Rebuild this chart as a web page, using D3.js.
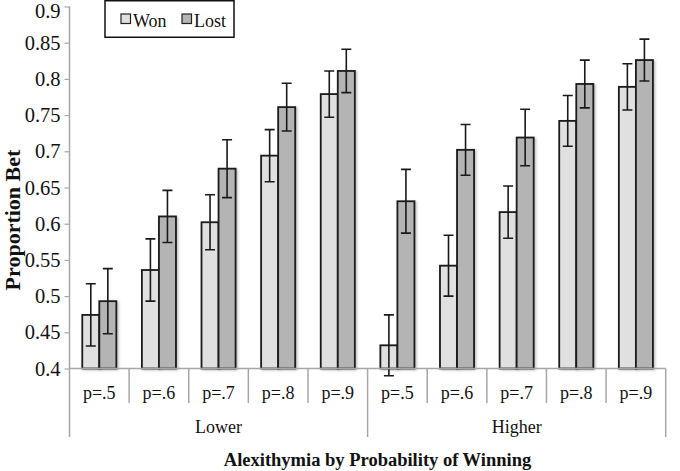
<!DOCTYPE html>
<html><head><meta charset="utf-8">
<script src="https://cdn.jsdelivr.net/npm/d3@7"></script>
<style>html,body{margin:0;padding:0;background:#fff}svg{display:block}</style>
</head><body><svg id="c" width="680" height="471"></svg>
<script>
const groups = ["Lower", "Higher"];
const probs = ["p=.5", "p=.6", "p=.7", "p=.8", "p=.9"];
const series = ["Won", "Lost"];
const wonMean  = [0.474, 0.536, 0.602, 0.694, 0.779, 0.432, 0.542, 0.616, 0.742, 0.789];
const wonErr   = [0.043, 0.043, 0.038, 0.036, 0.032, 0.042, 0.042, 0.036, 0.035, 0.032];
const lostMean = [0.493, 0.610, 0.676, 0.761, 0.811, 0.631, 0.702, 0.719, 0.793, 0.826];
const lostErr  = [0.045, 0.036, 0.040, 0.033, 0.030, 0.044, 0.035, 0.039, 0.033, 0.029];
const yTicks = [0.4, 0.45, 0.5, 0.55, 0.6, 0.65, 0.7, 0.75, 0.8, 0.85, 0.9];

(function () {
const colors = {Won: "#e0e0e0", Lost: "#b4b4b4"};
const font = "'Liberation Serif','Times New Roman',serif";
const svg = d3.select("#c");

const cats = [];
groups.forEach(g => probs.forEach(p => cats.push({group: g, prob: p, key: g + "|" + p})));
const data = cats.map((c, i) => ({
  ...c,
  vals: [{s: "Won", m: wonMean[i], e: wonErr[i]}, {s: "Lost", m: lostMean[i], e: lostErr[i]}]
}));

const pL = 69.5, pR = 665.7, pT = 6.5, pB = 368.5;
const y = d3.scaleLinear().domain([0.4, 0.9]).range([pB, pT]);
const x0 = d3.scaleBand().domain(cats.map(c => c.key)).range([pL, pR]).padding(0);
const x1 = d3.scaleBand().domain(series).range([0, x0.bandwidth()]).paddingInner(0).paddingOuter(0.75);
const xg = d3.scaleBand().domain(groups).range([pL, pR]).padding(0);

const defs = svg.append("defs");
const f = defs.append("filter").attr("id", "sh").attr("x", "-20%").attr("y", "-20%").attr("width", "150%").attr("height", "150%");
f.append("feDropShadow").attr("dx", 1.5).attr("dy", 1).attr("stdDeviation", 1).attr("flood-color", "#000").attr("flood-opacity", 0.25);

const axisCol = "#a6a6a6";
const ya = svg.append("g").attr("transform", `translate(${pL},0)`)
  .call(d3.axisLeft(y).tickValues(yTicks).tickSize(5).tickPadding(4).tickFormat(d => String(+d.toFixed(2))));
ya.attr("font-family", font);
ya.select(".domain").attr("stroke", axisCol).attr("stroke-width", 1.5).attr("d", `M0,${pT}V${pB}`);
ya.selectAll(".tick line").attr("stroke", axisCol).attr("stroke-width", 1.2);
ya.selectAll(".tick text").attr("font-family", font).attr("font-size", 20.5).attr("fill", "#111")
  .attr("dy", d => d === 0.9 ? "0.52em" : "0.32em");

const gsel = svg.append("g").selectAll("g").data(data).join("g")
  .attr("transform", d => `translate(${x0(d.key)},0)`);
gsel.selectAll("rect").data(d => d.vals).join("rect")
  .attr("x", v => x1(v.s)).attr("width", x1.bandwidth())
  .attr("y", v => y(v.m)).attr("height", v => y(0.4) - y(v.m))
  .attr("fill", v => colors[v.s]).attr("stroke", "#1a1a1a").attr("stroke-width", 1.8)
  .attr("filter", "url(#sh)");

const cap = 5;
gsel.selectAll("path.err").data(d => d.vals).join("path").attr("class", "err")
  .attr("d", v => {
    const cx = x1(v.s) + x1.bandwidth() / 2, t = y(v.m + v.e), b = y(v.m - v.e);
    return `M${cx},${t}V${b}M${cx - cap},${t}H${cx + cap}M${cx - cap},${b}H${cx + cap}`;
  })
  .attr("stroke", "#1a1a1a").attr("stroke-width", 1.6).attr("fill", "none");

svg.append("line").attr("x1", pL).attr("x2", pR).attr("y1", pB).attr("y2", pB)
  .attr("stroke", axisCol).attr("stroke-width", 1.5);
const bounds = cats.map(c => x0(c.key)).concat([pR]);
svg.append("g").selectAll("line").data(bounds).join("line")
  .attr("x1", d => d).attr("x2", d => d).attr("y1", pB)
  .attr("y2", (d, i) => (i % probs.length === 0) ? 437 : 403)
  .attr("stroke", axisCol).attr("stroke-width", 1.5);
svg.append("g").selectAll("text").data(cats).join("text")
  .attr("x", c => x0(c.key) + x0.bandwidth() / 2).attr("y", 399)
  .attr("text-anchor", "middle").attr("font-family", font).attr("font-size", 18).attr("fill", "#111")
  .text(c => c.prob);
svg.append("g").selectAll("text").data(groups).join("text")
  .attr("x", g => xg(g) + xg.bandwidth() / 2).attr("y", 433)
  .attr("text-anchor", "middle").attr("font-family", font).attr("font-size", 18).attr("fill", "#111")
  .text(g => g);

svg.append("text").attr("x", 377.5).attr("y", 466).attr("text-anchor", "middle")
  .attr("font-family", font).attr("font-weight", "bold").attr("font-size", 18.5).attr("fill", "#111")
  .text("Alexithymia by Probability of Winning");
svg.append("text").attr("transform", `translate(20,220) rotate(-90)`).attr("text-anchor", "middle")
  .attr("font-family", font).attr("font-weight", "bold").attr("font-size", 22).attr("fill", "#111")
  .text("Proportion Bet");

const lg = svg.append("g");
lg.append("rect").attr("x", 105).attr("y", 0.75).attr("width", 129).attr("height", 36.5)
  .attr("fill", "#fff").attr("stroke", "#111").attr("stroke-width", 1.5);
const li = lg.selectAll("g").data(series).join("g")
  .attr("transform", (s, i) => `translate(${121 + i * 61},0)`);
li.append("rect").attr("x", 0).attr("y", 14).attr("width", 9.5).attr("height", 9.5)
  .attr("fill", s => colors[s]).attr("stroke", "#222").attr("stroke-width", 1.2);
li.append("text").attr("x", 12).attr("y", 27).attr("font-family", font).attr("font-size", 18).attr("fill", "#111")
  .text(s => s);
})();
</script></body></html>
